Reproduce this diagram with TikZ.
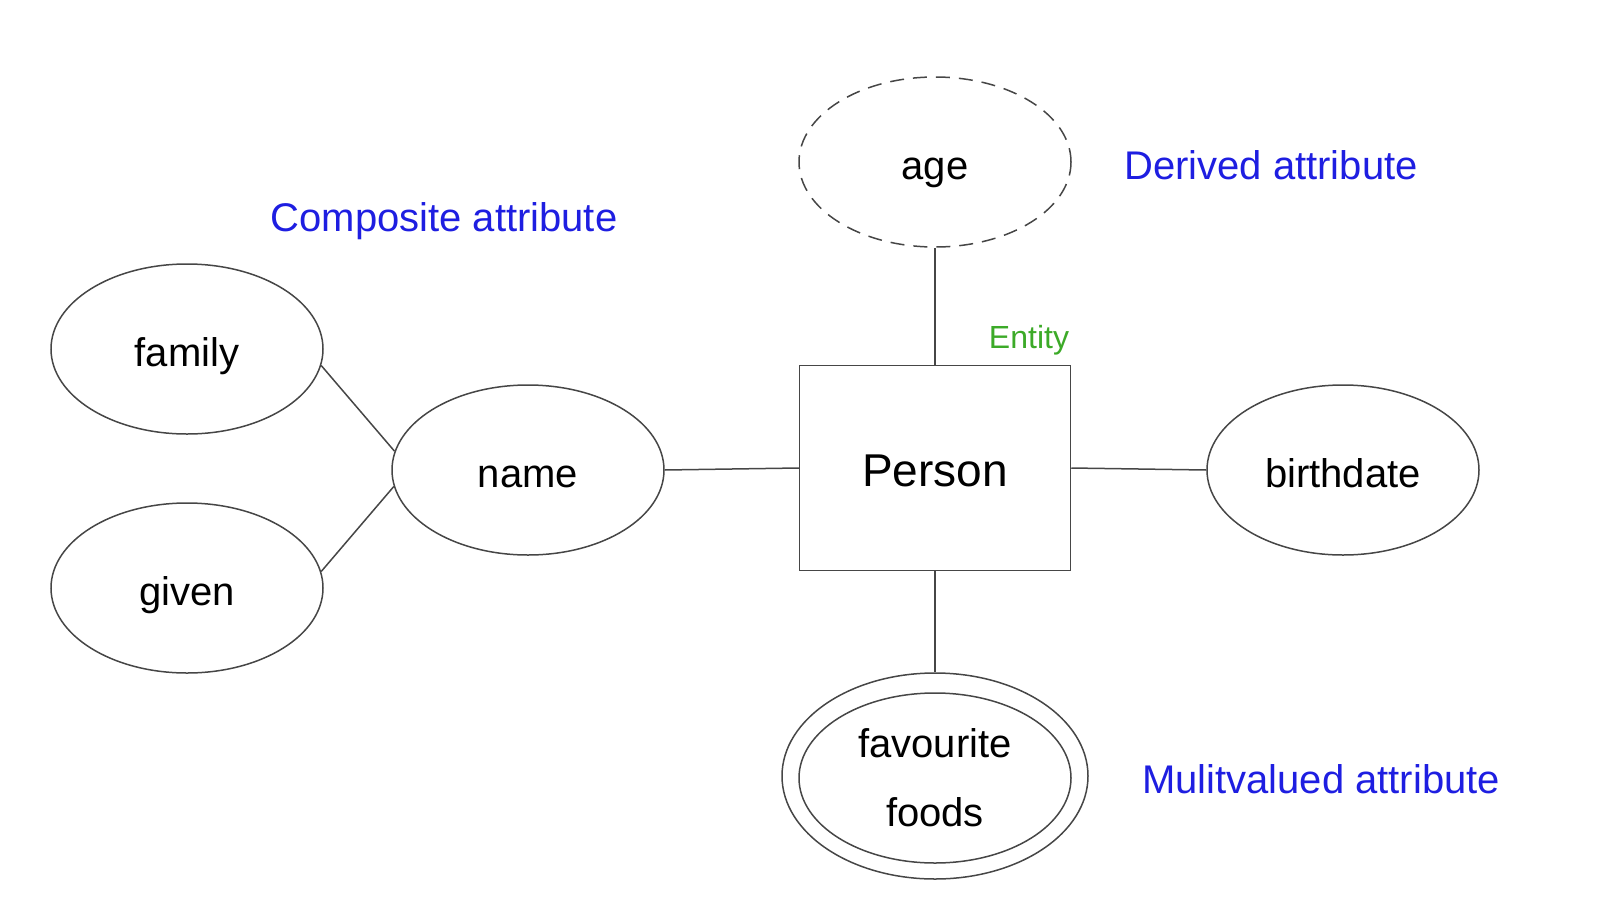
\documentclass[tikz,border=0pt]{standalone}
\usepackage{fontspec}
\setmainfont{Liberation Sans}
\usetikzlibrary{shapes.geometric}
\definecolor{lblblue}{RGB}{30,30,225}
\definecolor{lblgreen}{RGB}{60,170,40}
\definecolor{ln}{RGB}{70,70,70}
\begin{document}
\begin{tikzpicture}[x=1pt,y=-1pt,
  attr/.style={ellipse,draw=ln,line width=1.5pt,inner sep=0pt,minimum width=272pt,minimum height=170pt,font=\fontsize{40}{48}\selectfont,text height=34pt,text depth=0pt},
  ent/.style={rectangle,draw=ln,line width=1.5pt,inner sep=0pt,minimum width=271pt,minimum height=205pt,font=\fontsize{46}{54}\selectfont,text height=37pt,text depth=0pt},
  conn/.style={draw=ln,line width=1.5pt},
  note/.style={text=lblblue,font=\fontsize{40}{48}\selectfont,inner sep=0pt}]
\useasboundingbox (0,0) rectangle (1618,916);
\node[ent] (person) at (935,468) {Person};
\node[attr,dash pattern=on 14pt off 9pt] (age) at (935,162) {age};
\node[attr] (name) at (528,470) {name};
\node[attr] (family) at (187,349) {family};
\node[attr] (given) at (187,588) {given};
\node[attr] (birth) at (1343,470) {birthdate};
\node[ellipse,draw=ln,line width=1.5pt,inner sep=0pt,minimum width=306pt,minimum height=206pt] (favout) at (935,776) {};
\node[attr,align=center,font=\fontsize{40}{69}\selectfont,text height=,text depth=] (fav) at (935,778) {favourite\\foods};
\node[note] (lderived) at (1271,165) {Derived attribute};
\node[note] (lcomp) at (444,221) {Composite attribute};
\node[note] (lmulti) at (1321,779) {Mulitvalued attribute};
\node[text=lblgreen,font=\fontsize{32}{38}\selectfont,inner sep=0pt] (lent) at (1029,340) {Entity};
\draw[conn] (person.north) -- (age.south);
\draw[conn] (person.west) -- (name.east);
\draw[conn] (person.east) -- (birth.west);
\draw[conn] (person.south) -- (favout.north);
\draw[conn] (family.-7) -- (name.172);
\draw[conn] (given.7) -- (name.-173);
\end{tikzpicture}
\end{document}
